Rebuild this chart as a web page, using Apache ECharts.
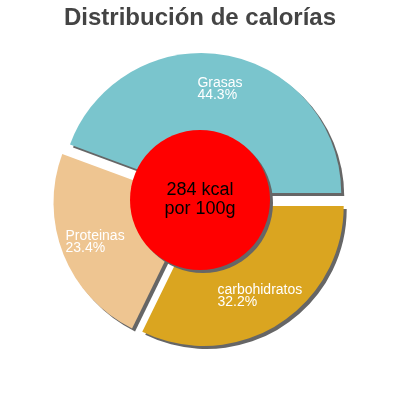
<!DOCTYPE html>
<html>
<head>
<meta charset="utf-8">
<script src="https://cdn.jsdelivr.net/npm/echarts@6/dist/echarts.min.js"></script>
<style>
  html, body { margin: 0; padding: 0; background: #fff; }
  #chart { width: 400px; height: 400px; }
</style>
</head>
<body>
<div id="chart"></div>
<script>
const titleText = 'Distribución de calorías';
const categories = ['Grasas', 'Proteinas', 'carbohidratos'];
const percentages = [44.3, 23.4, 32.2];
const sliceColors = ['#7AC5CD', '#EEC591', '#DAA520'];
const centerLines = ['284 kcal', 'por 100g'];

const FONT = '"Liberation Sans", Arial, sans-serif';
const chart = echarts.init(document.getElementById('chart'), null, { renderer: 'canvas' });

const mainData = categories.map((c, i) => ({
  name: c,
  value: percentages[i],
  selected: true,
  itemStyle: { color: sliceColors[i] }
}));
const labelData = categories.map((c, i) => ({ name: c, value: percentages[i] }));

chart.setOption({
  animation: false,
  backgroundColor: '#ffffff',
  title: {
    text: titleText,
    left: 'center',
    top: 1,
    textStyle: { fontFamily: FONT, fontSize: 24, fontWeight: 'bold', color: '#444444' }
  },
  series: [
    {
      type: 'pie',
      center: [200, 200],
      radius: [0, 140],
      startAngle: 0,
      clockwise: false,
      selectedMode: 'multiple',
      selectedOffset: 7,
      silent: true,
      emphasis: { disabled: true },
      label: { show: false },
      labelLine: { show: false },
      itemStyle: {
        shadowColor: '#666666',
        shadowBlur: 0,
        shadowOffsetX: 3,
        shadowOffsetY: 3
      },
      data: mainData
    },
    {
      type: 'pie',
      center: [200, 200],
      radius: [80, 140],
      startAngle: 0,
      clockwise: false,
      silent: true,
      emphasis: { disabled: true },
      itemStyle: { color: 'rgba(0,0,0,0)' },
      labelLine: { show: false },
      label: {
        show: true,
        position: 'inside',
        formatter: p => '{a|' + p.name + '}\n{a|' + p.value.toFixed(1) + '%}',
        rich: {
          a: { align: 'left', color: '#ffffff', fontSize: 14, lineHeight: 12, fontFamily: FONT }
        }
      },
      data: labelData,
      z: 3
    },
    {
      type: 'pie',
      center: [200, 200],
      radius: [0, 70],
      silent: true,
      emphasis: { disabled: true },
      itemStyle: {
        color: '#ff0000',
        shadowColor: '#666666',
        shadowBlur: 0,
        shadowOffsetX: 3,
        shadowOffsetY: 3
      },
      labelLine: { show: false },
      label: {
        show: true,
        position: 'center',
        formatter: centerLines.join('\n'),
        color: '#000000',
        fontSize: 18,
        lineHeight: 19,
        fontFamily: FONT
      },
      data: [{ name: 'energia', value: 1 }],
      z: 4
    }
  ]
});
</script>
</body>
</html>
